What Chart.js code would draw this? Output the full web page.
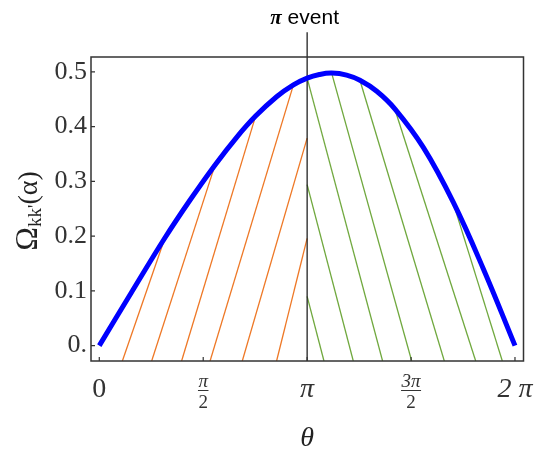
<!DOCTYPE html>
<html><head><meta charset="utf-8">
<script src="https://cdn.jsdelivr.net/npm/chart.js@4.4.1/dist/chart.umd.min.js"></script>
<style>html,body{margin:0;padding:0;background:#fff;} canvas{display:block;}</style>
</head><body>
<canvas id="c" width="541" height="449"></canvas>
<script>
// θ expressed in units of π
const curveTheta = [0, 0.156, 0.316, 0.436, 0.557, 0.661, 0.752, 0.853, 0.934, 1.0, 1.059, 1.118, 1.19, 1.254, 1.335, 1.423, 1.559, 1.703, 1.848, 2.0];
const curveOmega = [0, 0.098, 0.197, 0.2655, 0.330, 0.3804, 0.4191, 0.4545, 0.4761, 0.4885, 0.495, 0.4976, 0.4940, 0.4845, 0.4645, 0.432, 0.362, 0.262, 0.14, 0];
// hatch segments: [θ0, Ω0, θ1, Ω1]
const orangeHatch = [
  [0.111, -0.028, 0.316, 0.197],
  [0.252, -0.028, 0.557, 0.330],
  [0.396, -0.028, 0.752, 0.419],
  [0.533, -0.028, 0.934, 0.476],
  [0.688, -0.028, 1.0, 0.379],
  [0.853, -0.028, 1.0, 0.196]
];
const greenHatch = [
  [1.0, 0.090, 1.081, -0.028],
  [1.0, 0.294, 1.222, -0.028],
  [1.0, 0.4885, 1.363, -0.028],
  [1.118, 0.4976, 1.503, -0.028],
  [1.254, 0.4845, 1.660, -0.028],
  [1.421, 0.433, 1.811, -0.028],
  [1.701, 0.263, 1.939, -0.028]
];
const piEventTheta = 1;
const piEventLine = [-0.028, 0.572];
const eventLabel = ["π", " event"];
const yTicks = [0, 0.1, 0.2, 0.3, 0.4, 0.5];
const yTickLabels = ["0.", "0.1", "0.2", "0.3", "0.4", "0.5"];
const xTicks = [0, 0.5, 1, 1.5, 2];
const xTickLabels = [["0"], ["π", "2"], ["π"], ["3π", "2"], ["2 π"]];
const xTitle = "θ";
const yTitleParts = ["Ω", "kk", "'", "(α)"];

const ORANGE = 'rgb(238,120,38)';
const GREEN = 'rgb(112,168,62)';

const datasets = [];
datasets.push({
  data: curveTheta.map((t, i) => ({x: t, y: curveOmega[i]})),
  borderColor: '#0000ff', borderWidth: 5, pointRadius: 0,
  tension: 0.4, borderCapStyle: 'butt'
});
datasets.push({
  data: piEventLine.map(v => ({x: piEventTheta, y: v})),
  borderColor: '#222', borderWidth: 1.3, pointRadius: 0, clip: false
});
orangeHatch.forEach(s => datasets.push({
  data: [{x: s[0], y: s[1]}, {x: s[2], y: s[3]}],
  borderColor: ORANGE, borderWidth: 1.3, pointRadius: 0
}));
greenHatch.forEach(s => datasets.push({
  data: [{x: s[0], y: s[1]}, {x: s[2], y: s[3]}],
  borderColor: GREEN, borderWidth: 1.3, pointRadius: 0
}));

const deco = {
  id: 'deco',
  afterDraw(chart) {
    const {ctx, chartArea: a, scales: {x, y}} = chart;
    ctx.save();
    ctx.strokeStyle = '#333';
    ctx.lineWidth = 1.5;
    ctx.strokeRect(a.left, a.top, a.right - a.left, a.bottom - a.top);
    ctx.lineWidth = 1.2;
    ctx.beginPath();
    xTicks.forEach(v => { const p = x.getPixelForValue(v); ctx.moveTo(p, a.bottom); ctx.lineTo(p, a.bottom - 4); });
    yTicks.forEach(v => { const p = y.getPixelForValue(v); ctx.moveTo(a.left, p); ctx.lineTo(a.left + 4, p); });
    ctx.stroke();

    // x tick labels
    ctx.fillStyle = '#333';
    ctx.textAlign = 'center';
    ctx.textBaseline = 'alphabetic';
    xTicks.forEach((v, i) => {
      const p = x.getPixelForValue(v);
      const lab = xTickLabels[i];
      if (lab.length === 1) {
        ctx.font = (lab[0].includes('π') ? 'italic ' : '') + '28px "Liberation Serif"';
        ctx.fillText(lab[0], p, 397);
      } else {
        ctx.font = 'italic 19px "Liberation Serif"';
        ctx.fillText(lab[0], p, 387);
        const w = Math.max(ctx.measureText(lab[0]).width, ctx.measureText(lab[1]).width) + 1;
        ctx.font = '19px "Liberation Serif"';
        ctx.fillText(lab[1], p, 408);
        ctx.lineWidth = 1;
        ctx.beginPath(); ctx.moveTo(p - w / 2, 390.5); ctx.lineTo(p + w / 2, 390.5); ctx.stroke();
      }
    });
    // x title
    ctx.fillStyle = '#222';
    ctx.font = 'italic 28px "Liberation Serif"';
    ctx.fillText(xTitle, x.getPixelForValue(1), 446);

    // event label
    ctx.fillStyle = '#000';
    const f1 = 'bold italic 21px "Liberation Serif"', f2 = '21px "Liberation Sans"';
    ctx.font = f1; const w1 = ctx.measureText(eventLabel[0]).width;
    ctx.font = f2; const w2 = ctx.measureText(eventLabel[1]).width;
    let sx = x.getPixelForValue(piEventTheta) - 2.5 - (w1 + w2) / 2;
    ctx.textAlign = 'left';
    ctx.font = f1; ctx.fillText(eventLabel[0], sx, 24);
    ctx.font = f2; ctx.fillText(eventLabel[1], sx + w1, 24);

    // y title
    const parts = [
      {t: yTitleParts[0], f: '32px "Liberation Serif"', dy: 0},
      {t: yTitleParts[1], f: '19px "Liberation Serif"', dy: 4},
      {t: yTitleParts[2], f: '19px "Liberation Serif"', dy: 4},
      {t: yTitleParts[3], f: '28px "Liberation Serif"', dy: 0}
    ];
    let tot = 0;
    parts.forEach(pp => { ctx.font = pp.f; pp.w = ctx.measureText(pp.t).width; tot += pp.w; });
    ctx.translate(37, 211);
    ctx.rotate(-Math.PI / 2);
    ctx.fillStyle = '#222';
    let u = -tot / 2;
    parts.forEach(pp => { ctx.font = pp.f; ctx.fillText(pp.t, u, pp.dy); u += pp.w; });
    ctx.restore();
  }
};

new Chart(document.getElementById('c'), {
  type: 'line',
  data: { datasets },
  options: {
    responsive: false, animation: false, devicePixelRatio: 1,
    layout: { padding: { top: 57, right: 17.5, left: 0, bottom: 0 } },
    plugins: { legend: { display: false }, tooltip: { enabled: false } },
    elements: { line: { tension: 0 } },
    scales: {
      x: {
        type: 'linear', min: -0.0399, max: 2.041,
        afterBuildTicks: s => { s.ticks = xTicks.map(v => ({value: v})); },
        ticks: { display: false },
        grid: { display: false, drawTicks: false },
        border: { display: false },
        afterFit: s => { s.height = 88; }
      },
      y: {
        type: 'linear', min: -0.028, max: 0.527,
        afterBuildTicks: s => { s.ticks = yTicks.map(v => ({value: v})); },
        ticks: {
          font: { family: 'Liberation Serif', size: 26 }, color: '#333', padding: 4,
          callback: v => yTickLabels[yTicks.indexOf(v)]
        },
        grid: { display: false, drawTicks: false },
        border: { display: false },
        afterFit: s => { s.width = 91; }
      }
    }
  },
  plugins: [deco]
});
</script>
</body></html>
